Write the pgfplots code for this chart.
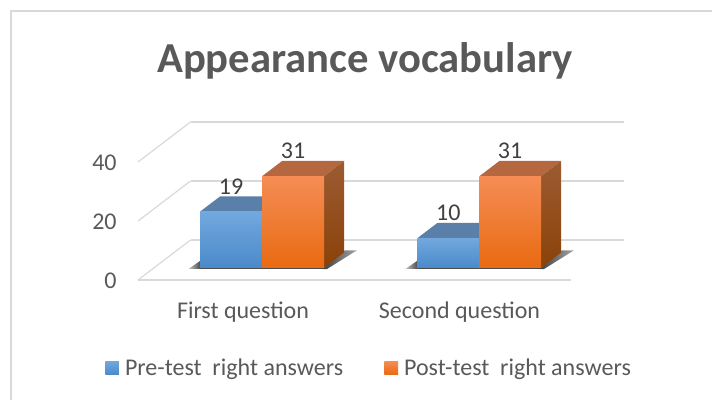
\documentclass[border=0pt]{standalone}
\usepackage{fontspec}
\setmainfont{Carlito}
\usepackage{pgfplots}
\pgfplotsset{compat=1.18}
\definecolor{txt}{HTML}{595959}
\definecolor{lbl}{HTML}{404040}
\definecolor{gridc}{HTML}{D9D9D9}
\pgfplotsset{
  blue front/.style={draw=none, top color=blue1, middle color=blue2, bottom color=blue3},
  orange front/.style={draw=none, top color=orange1, middle color=orange2, bottom color=orange3},
}
\definecolor{blue1}{HTML}{72A8DE}
\definecolor{blue2}{HTML}{5B9CDD}
\definecolor{blue3}{HTML}{4A8ACA}
\definecolor{blueT}{HTML}{5A7FA8}
\definecolor{orange1}{HTML}{F58D55}
\definecolor{orange2}{HTML}{F57D2A}
\definecolor{orange3}{HTML}{E96A12}
\definecolor{orangeT}{HTML}{B5683F}
\definecolor{sideT}{HTML}{9C5B32}
\definecolor{sideB}{HTML}{8A4208}
\begin{document}
\begin{tikzpicture}[x=0.75pt,y=0.75pt]
\begin{axis}[
  at={(0,0)}, anchor=origin,
  x={(0.75pt,0pt)}, y={(39.375pt,30pt)}, z={(0pt,2.2125pt)},
  xmin=0, xmax=433, ymin=0, ymax=1, zmin=0, zmax=40,
  clip=false,
  axis line style={draw=none},
  tick style={draw=none},
  xtick={105,321.5}, xticklabels={First question, Second question},
  ytick=\empty,
  ztick={0,20,40},
  zmajorgrids, major grid style={gridc, line width=0.9pt},
  tick label style={font=\fontsize{18}{20}\selectfont, text=txt},
  x tick label style={anchor=center, yshift=-24pt},
  z tick label style={anchor=east, xshift=-12.5pt, yshift=-0.7pt},
  /pgf/number format/assume math mode=true,
  legend columns=2,
  legend style={at={(axis cs:-37,0,-29.8)}, anchor=west, draw=none, fill=none,
    font=\fontsize{18}{20}\selectfont, text=txt,
    /tikz/column 1/.style={column sep=2.5pt},
    /tikz/column 2/.style={column sep=29pt},
    /tikz/column 3/.style={column sep=2.5pt}},
  legend cell align=left,
  legend image code/.code={\path[#1] (0pt,-5.15pt) rectangle (10.3pt,5.15pt);},
]
% floor front edge
\addplot3[gridc, line width=0.9pt, no marks, forget plot] coordinates {(0,0,0) (433,0,0)};

% shadows on the floor
\addplot3[draw=none, left color=black!25, right color=black!70, forget plot, no marks] coordinates {(36,0.28,0) (46,0.28,0) (46,0.3075,0) (37,0.475,0) (36,0.28,0)};
\addplot3[draw=none, fill=black!70, forget plot, no marks] coordinates {(46,0.28,0) (174.6,0.275,0) (170,0.31,0) (46,0.31,0) (46,0.28,0)};
\addplot3[draw=none, left color=black!75, right color=black!35, forget plot, no marks] coordinates {(170,0.28,0) (174.6,0.275,0) (180,0.74,0) (168,0.74,0) (170,0.28,0)};
\addplot3[draw=none, left color=black!25, right color=black!70, forget plot, no marks] coordinates {(253,0.28,0) (263.2,0.28,0) (263.2,0.3075,0) (254,0.475,0) (253,0.28,0)};
\addplot3[draw=none, fill=black!70, forget plot, no marks] coordinates {(263.2,0.28,0) (391.6,0.275,0) (387,0.31,0) (263.2,0.31,0) (263.2,0.28,0)};
\addplot3[draw=none, left color=black!75, right color=black!35, forget plot, no marks] coordinates {(387,0.28,0) (391.6,0.275,0) (397,0.74,0) (385,0.74,0) (387,0.28,0)};

% first question: blue
\addplot3[draw=none, fill=blueT, forget plot, no marks] coordinates {(45.9,0.3075,19) (107.9,0.3075,19) (107.9,0.69,19) (45.9,0.69,19) (45.9,0.3075,19)};
\addplot3[blue front, forget plot, no marks] coordinates {(45.9,0.3075,0) (107.9,0.3075,0) (107.9,0.3075,19) (45.9,0.3075,19) (45.9,0.3075,0)};
% second question: blue
\addplot3[draw=none, fill=blueT, forget plot, no marks] coordinates {(263.2,0.3075,10) (325.2,0.3075,10) (325.2,0.69,10) (263.2,0.69,10) (263.2,0.3075,10)};
\addplot3[blue front, forget plot, no marks] coordinates {(263.2,0.3075,0) (325.2,0.3075,0) (325.2,0.3075,10) (263.2,0.3075,10) (263.2,0.3075,0)};

% first question: orange
\addplot3[draw=none, fill=orangeT, forget plot, no marks] coordinates {(107.9,0.3075,31) (169.9,0.3075,31) (169.9,0.69,31) (107.9,0.69,31) (107.9,0.3075,31)};
\addplot3[draw=none, top color=sideT, bottom color=sideB, forget plot, no marks] coordinates {(169.9,0.3075,0) (169.9,0.69,0) (169.9,0.69,31) (169.9,0.3075,31) (169.9,0.3075,0)};
\addplot3[orange front, forget plot, no marks] coordinates {(107.9,0.3075,0) (169.9,0.3075,0) (169.9,0.3075,31) (107.9,0.3075,31) (107.9,0.3075,0)};
% second question: orange
\addplot3[draw=none, fill=orangeT, forget plot, no marks] coordinates {(325.2,0.3075,31) (386.9,0.3075,31) (386.9,0.69,31) (325.2,0.69,31) (325.2,0.3075,31)};
\addplot3[draw=none, top color=sideT, bottom color=sideB, forget plot, no marks] coordinates {(386.9,0.3075,0) (386.9,0.69,0) (386.9,0.69,31) (386.9,0.3075,31) (386.9,0.3075,0)};
\addplot3[orange front, forget plot, no marks] coordinates {(325.2,0.3075,0) (386.9,0.3075,0) (386.9,0.3075,31) (325.2,0.3075,31) (325.2,0.3075,0)};

% value labels
\addplot3[only marks, mark=none, forget plot, point meta=z,
  nodes near coords,
  every node near coord/.style={anchor=center, yshift=18.75pt, text=lbl,
    font=\fontsize{18}{20}\selectfont}]
  coordinates {(76.9,0.3075,19) (138.9,0.3075,31) (294.2,0.3075,10) (356,0.3075,31)};

\addlegendimage{draw=none, top color=blue1, bottom color=blue3}
\addlegendentry{Pre-test\ \ right answers}
\addlegendimage{draw=none, top color=orange1, bottom color=orange3}
\addlegendentry{Post-test\ \ right answers}
\end{axis}
\node[font=\fontsize{32}{36}\selectfont\bfseries, text=txt] at (227,219) {Appearance vocabulary};
\draw[gridc, line width=1pt] (-127,-120) -- (-127,269) -- (574,269);
\pgfresetboundingbox
\path[use as bounding box] (-138,-120) rectangle (574,280);
\end{tikzpicture}
\end{document}
